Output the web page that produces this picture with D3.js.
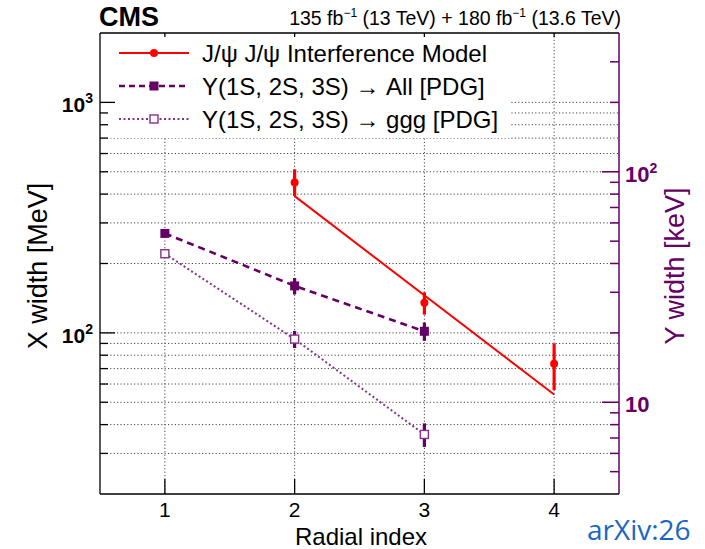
<!DOCTYPE html>
<html><head><meta charset="utf-8">
<script src="https://cdn.jsdelivr.net/npm/d3@7/dist/d3.min.js"></script>
<style>body{margin:0;background:#fff}svg{display:block}</style>
</head><body>
<script>
// ---- data ----
const radialTicks = [1, 2, 3, 4];
const modelX = [2, 3, 4];
const modelVal = [449, 135, 73.5];      // MeV
const modelLo = [392, 120, 56.5];
const modelHi = [512, 150, 90];
const modelLineX = [2, 4];
const modelLineVal = [392, 54];          // MeV
const upsX = [1, 2, 3];
const upsAll = [54.02, 31.98, 20.32];    // keV
const upsAllErr = [1.25, 2.63, 1.85];
const upsGgg = [44.1, 18.8, 7.25];       // keV
const upsGggErr = [1.0, 1.6, 0.85];
const leftMajor = [100, 1000];
const leftMinor = [30, 40, 50, 60, 70, 80, 90, 200, 300, 400, 500, 600, 700, 800, 900];
const rightMajor = [10, 100];
const rightMinor = [5, 6, 7, 8, 9, 20, 30, 40, 50, 60, 70, 80, 90, 200, 300];
const legendLabels = ["J/\u03C8 J/\u03C8 Interference Model", "\u03A5(1S, 2S, 3S) \u2192 All [PDG]", "\u03A5(1S, 2S, 3S) \u2192 ggg [PDG]"];

const W = 705, H = 549;
const L = 100, R = 619, T = 33, B = 494;
const RED = "#ff0000", PUR = "#650065", PUR2 = "#86308a";
const FONT = "'Liberation Sans', Arial, Helvetica, sans-serif";

const svg = d3.select("body").append("svg").attr("width", W).attr("height", H)
  .style("font-family", FONT);

const x = d3.scaleLinear().domain([0.5, 4.5]).range([L, R]);
const yL = d3.scaleLog().domain([20, 2000]).range([B, T]);
const yR = d3.scaleLog().domain([4, 400]).range([B, T]);

// grid
const grid = svg.append("g").attr("stroke", "#444").attr("stroke-width", 1).attr("stroke-dasharray", "1.2,2.2");
grid.selectAll("line.h").data(leftMajor.concat(leftMinor)).join("line")
  .attr("x1", L).attr("x2", R).attr("y1", d => yL(d)).attr("y2", d => yL(d));
grid.selectAll("line.v").data(radialTicks).join("line")
  .attr("x1", d => x(d)).attr("x2", d => x(d)).attr("y1", T).attr("y2", B);

// legend background
svg.append("rect").attr("x", L + 1).attr("y", T + 1).attr("width", 410).attr("height", 104).attr("fill", "#fff");

// frame & axes
const ax = svg.append("g").attr("stroke", "#000").attr("stroke-width", 1.3);
ax.append("line").attr("x1", L).attr("x2", L).attr("y1", T).attr("y2", B);
ax.append("line").attr("x1", L).attr("x2", R).attr("y1", T).attr("y2", T);
ax.append("line").attr("x1", L).attr("x2", R).attr("y1", B).attr("y2", B);
ax.selectAll("line.lmaj").data(leftMajor).join("line").attr("x1", L).attr("x2", L + 15).attr("y1", d => yL(d)).attr("y2", d => yL(d));
ax.selectAll("line.lmin").data(leftMinor).join("line").attr("x1", L).attr("x2", L + 8).attr("y1", d => yL(d)).attr("y2", d => yL(d));
ax.selectAll("line.b").data(radialTicks).join("line").attr("x1", d => x(d)).attr("x2", d => x(d)).attr("y1", B).attr("y2", B - 15);
ax.selectAll("line.t").data(radialTicks).join("line").attr("x1", d => x(d)).attr("x2", d => x(d)).attr("y1", T).attr("y2", T + 4);

// right axis
const ra = svg.append("g").attr("stroke", PUR).attr("stroke-width", 1.5);
ra.append("line").attr("x1", R).attr("x2", R).attr("y1", T).attr("y2", B);
ra.selectAll("line.rmaj").data(rightMajor).join("line").attr("x1", R).attr("x2", R - 17).attr("y1", d => yR(d)).attr("y2", d => yR(d));
ra.selectAll("line.rmin").data(rightMinor).join("line").attr("x1", R).attr("x2", R - 9).attr("y1", d => yR(d)).attr("y2", d => yR(d));

// tick labels
function powLabel(g, v) {
  const e = Math.round(Math.log10(v));
  g.text("10");
  if (e !== 1) g.append("tspan").attr("dy", -9).attr("font-size", "14px").text(e);
}
svg.selectAll("text.ll").data(leftMajor).join("text")
  .attr("x", 93).attr("y", d => yL(d) + 10).attr("text-anchor", "end")
  .attr("font-weight", "bold").attr("font-size", "21px").each(function (d) { powLabel(d3.select(this), d); });
svg.selectAll("text.rl").data(rightMajor).join("text")
  .attr("x", 625).attr("y", d => yR(d) + 10).attr("fill", PUR)
  .attr("font-weight", "bold").attr("font-size", "22px").each(function (d) { powLabel(d3.select(this), d); });
svg.selectAll("text.xl").data(radialTicks).join("text")
  .attr("x", d => x(d)).attr("y", 517).attr("text-anchor", "middle").attr("font-size", "21px").text(d => d);

// axis titles
svg.append("text").attr("transform", "translate(47,266) rotate(-90)").attr("text-anchor", "middle")
  .attr("font-size", "27px").text("X width [MeV]");
svg.append("text").attr("transform", "translate(684,266) rotate(-90)").attr("text-anchor", "middle")
  .attr("font-size", "27px").attr("fill", PUR).text("\u03A5 width [keV]");
svg.append("text").attr("x", 361).attr("y", 545).attr("text-anchor", "middle").attr("font-size", "24px").text("Radial index");

// header
svg.append("text").attr("x", 99).attr("y", 26).attr("font-weight", "bold").attr("font-size", "27px").text("CMS");
const hd = svg.append("text").attr("x", 621).attr("y", 25).attr("text-anchor", "end").attr("font-size", "19.5px");
hd.append("tspan").text("135 fb");
hd.append("tspan").attr("dy", -8).attr("font-size", "12px").text("\u22121");
hd.append("tspan").attr("dy", 8).text(" (13 TeV) + 180 fb");
hd.append("tspan").attr("dy", -8).attr("font-size", "12px").text("\u22121");
hd.append("tspan").attr("dy", 8).text(" (13.6 TeV)");

// arXiv
svg.append("text").attr("x", 587).attr("y", 540).attr("fill", "#1a66c6").attr("font-size", "28px")
  .attr("font-family", "'Open Sans', 'Noto Sans', sans-serif").text("arXiv:26");

// ---- data marks ----
const line = (xs, vs, sc) => d3.line().x((d, i) => x(xs[i])).y(d => sc(d))(vs);
svg.append("path").attr("d", line(modelLineX, modelLineVal, yL)).attr("fill", "none").attr("stroke", RED).attr("stroke-width", 2);
svg.append("path").attr("d", line(upsX, upsAll, yR)).attr("fill", "none").attr("stroke", PUR).attr("stroke-width", 2.6).attr("stroke-dasharray", "7,5");
svg.append("path").attr("d", line(upsX, upsGgg, yR)).attr("fill", "none").attr("stroke", PUR2).attr("stroke-width", 2).attr("stroke-dasharray", "2,2.5");

svg.selectAll("line.me").data(modelX).join("line").attr("x1", d => x(d)).attr("x2", d => x(d))
  .attr("y1", (d, i) => yL(modelLo[i])).attr("y2", (d, i) => yL(modelHi[i])).attr("stroke", RED).attr("stroke-width", 3.2);
svg.selectAll("line.ae").data(upsX).join("line").attr("x1", d => x(d)).attr("x2", d => x(d))
  .attr("y1", (d, i) => yR(upsAll[i] - upsAllErr[i])).attr("y2", (d, i) => yR(upsAll[i] + upsAllErr[i])).attr("stroke", PUR).attr("stroke-width", 3.2);
svg.selectAll("line.ge").data(upsX).join("line").attr("x1", d => x(d)).attr("x2", d => x(d))
  .attr("y1", (d, i) => yR(upsGgg[i] - upsGggErr[i])).attr("y2", (d, i) => yR(upsGgg[i] + upsGggErr[i])).attr("stroke", PUR).attr("stroke-width", 3.2);

svg.selectAll("circle.m").data(modelX).join("circle").attr("cx", d => x(d)).attr("cy", (d, i) => yL(modelVal[i])).attr("r", 4).attr("fill", RED);
svg.selectAll("rect.a").data(upsX).join("rect").attr("x", d => x(d) - 4.5).attr("y", (d, i) => yR(upsAll[i]) - 4.5)
  .attr("width", 9).attr("height", 9).attr("fill", PUR);
svg.selectAll("rect.g").data(upsX).join("rect").attr("x", d => x(d) - 4).attr("y", (d, i) => yR(upsGgg[i]) - 4)
  .attr("width", 8).attr("height", 8).attr("fill", "#fff").attr("stroke", PUR2).attr("stroke-width", 1.4);

// legend
const lg = svg.append("g");
const rows = [53, 86, 119];
const lx1 = 119, lx2 = 189, lm = 154;
lg.append("line").attr("x1", lx1).attr("x2", lx2).attr("y1", rows[0]).attr("y2", rows[0]).attr("stroke", RED).attr("stroke-width", 2);
lg.append("circle").attr("cx", lm).attr("cy", rows[0]).attr("r", 4).attr("fill", RED);
lg.append("line").attr("x1", lx1).attr("x2", lx2).attr("y1", rows[1]).attr("y2", rows[1]).attr("stroke", PUR).attr("stroke-width", 2.6).attr("stroke-dasharray", "6,4");
lg.append("rect").attr("x", lm - 4.5).attr("y", rows[1] - 4.5).attr("width", 9).attr("height", 9).attr("fill", PUR);
lg.append("line").attr("x1", lx1).attr("x2", lx2).attr("y1", rows[2]).attr("y2", rows[2]).attr("stroke", PUR2).attr("stroke-width", 2).attr("stroke-dasharray", "2,2.5");
lg.append("rect").attr("x", lm - 4).attr("y", rows[2] - 4).attr("width", 8).attr("height", 8).attr("fill", "#fff").attr("stroke", PUR2).attr("stroke-width", 1.4);
lg.selectAll("text").data(legendLabels).join("text").attr("x", 202).attr("y", (d, i) => rows[i] + 8.5)
  .attr("font-size", "24px").text(d => d);
</script>
</body></html>
